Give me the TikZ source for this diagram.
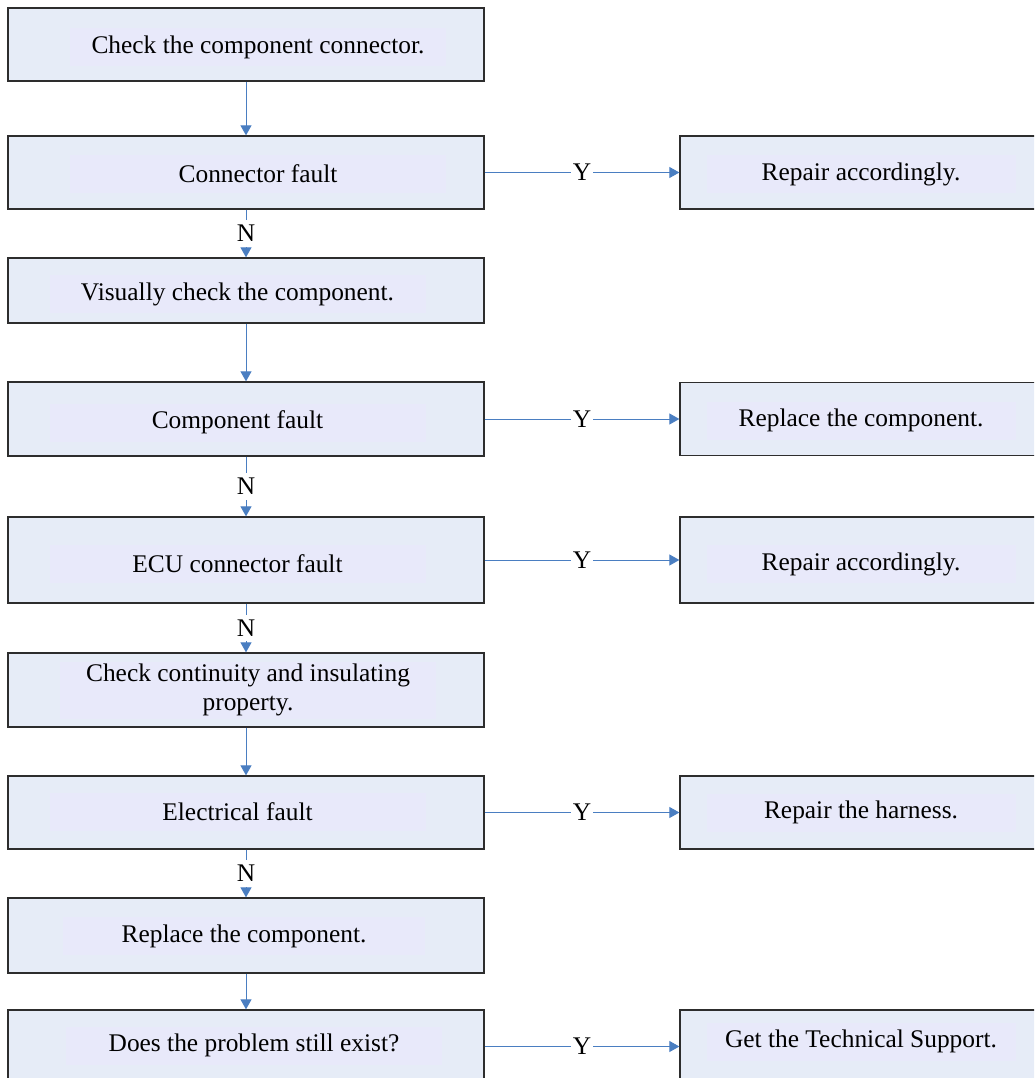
\documentclass[tikz,border=0pt]{standalone}
\usepackage{fontspec}
\setmainfont{Liberation Serif}
\usetikzlibrary{arrows.meta}

\definecolor{boxfill}{RGB}{230,236,247}
\definecolor{glow}{RGB}{232,233,250}
\definecolor{flow}{RGB}{74,126,193}
\definecolor{rim}{RGB}{45,45,45}

\begin{document}
\begin{tikzpicture}[x=1pt,y=-1pt,>={Triangle[length=10pt,width=11pt]},
    every node/.style={font=\fontsize{25.4}{29}\selectfont},
    box/.style={draw=rim,fill=boxfill,line width=1.3pt,minimum width=476pt,inner sep=0pt},
    fix/.style={box,minimum width=362pt,minimum height=73pt},
    caption/.style={fill=glow,minimum width=376pt,minimum height=38pt,inner sep=0pt,align=center},
    rcaption/.style={caption,minimum width=309pt},
    tag/.style={fill=white,text=black,inner xsep=1.5pt,inner ysep=5pt}]
    \clip (0,0) rectangle (1034,1078);
    \useasboundingbox (0,0) rectangle (1034,1078);

    % left column
    \node[box,minimum height=73pt] (chk)  at (246,44.5)  {};
    \node[box,minimum height=73pt] (conn) at (246,172.5) {};
    \node[box,minimum height=65pt] (vis)  at (246,290.5) {};
    \node[box,minimum height=74pt] (comp) at (246,419)   {};
    \node[box,minimum height=86pt] (ecu)  at (246,560)   {};
    \node[box,minimum height=74pt] (cont) at (246,690)   {};
    \node[box,minimum height=73pt] (elec) at (246,812.5) {};
    \node[box,minimum height=75pt] (repl) at (246,935.5) {};
    \node[box,minimum height=73pt] (still) at (246,1046.5) {};

    % right column
    \node[fix] (fixconn) at (861,172.5) {};
    \node[fix] (fixcomp) at (861,419) {};
    \node[fix,minimum height=86pt] (fixecu) at (861,560) {};
    \node[fix] (fixelec) at (861,812.5) {};
    \node[fix] (support) at (861,1046.5) {};

    % texts
    \node[caption,xshift=12pt,yshift=-3pt] (chk-t) at (chk) {Check the component connector.};
    \node[caption,xshift=12pt,yshift=-1.5pt] (conn-t) at (conn) {Connector fault};
    \node[caption,xshift=-8.5pt,yshift=-3.5pt] (vis-t) at (vis) {Visually check the component.};
    \node[caption,xshift=-8.5pt,yshift=-3.5pt] (comp-t) at (comp) {Component fault};
    \node[caption,xshift=-8.5pt,yshift=-4pt] (ecu-t) at (ecu) {ECU connector fault};
    \node[caption,minimum height=57pt,xshift=2pt] (cont-t) at (cont) {Check continuity and insulating\\property.};
    \node[caption,xshift=-8.5pt,yshift=1pt] (elec-t) at (elec) {Electrical fault};
    \node[caption,minimum width=362pt,xshift=-2pt,yshift=-0.5pt] (repl-t) at (repl) {Replace the component.};
    \node[caption,xshift=8pt,yshift=1pt] (still-t) at (still) {Does the problem still exist?};

    \node[rcaption,yshift=-1.5pt] (fixconn-t) at (fixconn) {Repair accordingly.};
    \node[rcaption,yshift=-1.5pt] (fixcomp-t) at (fixcomp) {Replace the component.};
    \node[rcaption,yshift=-4pt] (fixecu-t) at (fixecu) {Repair accordingly.};
    \node[rcaption,yshift=0pt] (fixelec-t) at (fixelec) {Repair the harness.};
    \node[rcaption,yshift=5pt] (support-t) at (support) {Get the Technical Support.};

    \path[->,color=flow,line width=1pt]
    (chk) edge (conn)
    (conn) edge node[tag] {N} (vis)
    (conn) edge node[tag] {Y} (fixconn)

    (vis) edge (comp)
    (comp) edge node[tag] {N} (ecu)
    (comp) edge node[tag] {Y} (fixcomp)

    (ecu) edge node[tag] {N} (cont)
    (ecu) edge node[tag] {Y} (fixecu)

    (cont) edge (elec)
    (elec) edge node[tag] {N} (repl)
    (elec) edge node[tag] {Y} (fixelec)

    (repl) edge (still)
    (still) edge node[tag] {Y} (support)
    ;
\end{tikzpicture}
\end{document}
